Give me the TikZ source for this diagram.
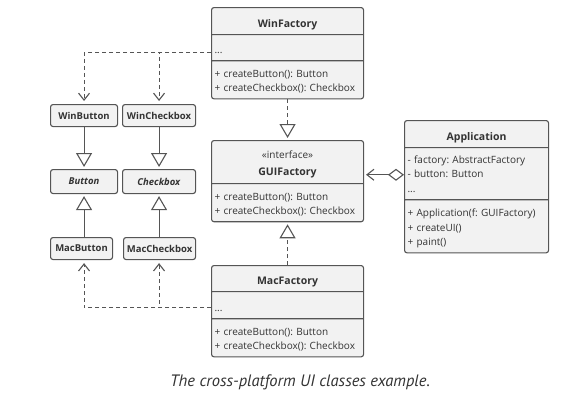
\documentclass[tikz,border=0pt]{standalone}
\usepackage{fontspec}
\setmainfont{Open Sans}
\newfontfamily\captionfont{PT Sans}
\usetikzlibrary{shapes}
\usetikzlibrary{arrows.meta}

\definecolor{boxfill}{HTML}{F2F2F2}
\definecolor{boxline}{HTML}{555555}
\definecolor{textgray}{HTML}{333333}

\begin{document}
\begin{tikzpicture}[x=1pt,y=-1pt]
	\tikzstyle{every node}=[font=\fontsize{10}{14.5}\selectfont\frenchspacing, text=textgray]
	\tikzstyle{umlclass}=[rectangle split, rectangle split parts=3, draw=boxline, fill=boxfill, line width=1.1pt, rounded corners=2.5pt, text width=146pt, inner xsep=3pt, inner ysep=0pt, anchor=north west]
	\tikzstyle{widget}=[rectangle, draw=boxline, fill=boxfill, line width=1.1pt, rounded corners=2.5pt, minimum height=22pt, inner sep=0pt, font=\fontsize{9.5}{14.5}\selectfont\bfseries, anchor=north west]
	\tikzstyle{inherit}=[draw=boxline, line width=1.1pt, -{Triangle[open, length=14pt, width=16pt]}, shorten >=2pt]
	\tikzstyle{implement}=[inherit, dash pattern=on 4pt off 3pt]
	\tikzstyle{depend}=[draw=boxline, line width=1.1pt, dash pattern=on 4pt off 3pt, -{Straight Barb[length=7pt, width=11pt]}, shorten >=3pt]
	\tikzstyle{aggregate}=[draw=boxline, line width=1.1pt, {Diamond[open, length=16pt, width=12pt]}-{Straight Barb[length=7pt, width=11pt]}, shorten >=2pt]

	\useasboundingbox (0,0) rectangle (581,402);

	% factories
	\node[umlclass] (WinFactory) at (211,7)
		{\centering\rule[-7pt]{0pt}{26pt}\fontsize{10.5}{14.5}\selectfont\textbf{WinFactory}\par
		\nodepart{two}\rule[-7pt]{0pt}{25pt}...
		\nodepart{three}\rule{0pt}{16pt}+ createButton(): Button\\\rule[-6.5pt]{0pt}{6.5pt}+ createCheckbox(): Checkbox};
	\node[umlclass, rectangle split parts=2] (GUIFactory) at (211,140)
		{\centering\rule{0pt}{17pt}«interface»\\[2.5pt]\rule[-8pt]{0pt}{8pt}\fontsize{10.5}{14.5}\selectfont\textbf{GUIFactory}\par
		\nodepart{two}\rule{0pt}{16pt}+ createButton(): Button\\\rule[-6.5pt]{0pt}{6.5pt}+ createCheckbox(): Checkbox};
	\node[umlclass] (MacFactory) at (211,265)
		{\centering\rule[-7pt]{0pt}{25pt}\fontsize{10.5}{14.5}\selectfont\textbf{MacFactory}\par
		\nodepart{two}\rule[-7pt]{0pt}{26pt}...
		\nodepart{three}\rule{0pt}{16pt}+ createButton(): Button\\\rule[-6.5pt]{0pt}{6.5pt}+ createCheckbox(): Checkbox};
	\node[umlclass, text width=138pt] (Application) at (404,120)
		{\centering\rule[-7pt]{0pt}{26pt}\fontsize{10.5}{14.5}\selectfont\textbf{Application}\par
		\nodepart{two}\rule{0pt}{15pt}- factory: AbstractFactory\\- button: Button\\\rule[-7pt]{0pt}{7pt}...
		\nodepart{three}\rule{0pt}{16.5pt}+ Application(f: GUIFactory)\\+ createUI()\\\rule[-6.5pt]{0pt}{6.5pt}+ paint()};

	% products
	\node[widget, minimum width=67pt] (WinButton) at (50,104) {WinButton};
	\node[widget, minimum width=73pt] (WinCheckbox) at (122,104) {WinCheckbox};
	\node[widget, minimum width=67pt, minimum height=24pt] (Button) at (50,169) {\textit{Button}};
	\node[widget, minimum width=73pt, minimum height=24pt] (Checkbox) at (122,169) {\textit{Checkbox}};
	\node[widget, minimum width=62pt] (MacButton) at (50,237) {MacButton};
	\node[widget, minimum width=72pt] (MacCheckbox) at (123,237) {MacCheckbox};

	\node (caption) at (300,382) {\captionfont\fontsize{16.5}{18}\selectfont\itshape The cross-platform UI classes example.};

	% connectors
	\coordinate (winuse) at ([yshift=8pt]WinFactory.two split west);
	\coordinate (macuse) at ([yshift=11pt]MacFactory.two split west);
	\coordinate (appuse) at ([yshift=25pt]Application.two split west);

	\draw[depend] (winuse) -| (WinButton.north);
	\draw[depend] (winuse) -| (WinCheckbox.north);
	\draw[depend] (macuse) -| (Button.south |- MacButton.south);
	\draw[depend] (macuse) -| (Checkbox.south |- MacCheckbox.south);

	\draw[inherit] (WinButton) -- (Button);
	\draw[inherit] (WinCheckbox) -- (Checkbox);
	\draw[inherit] (Button.south |- MacButton.north) -- (Button.south);
	\draw[inherit] (Checkbox.south |- MacCheckbox.north) -- (Checkbox.south);

	\draw[implement] (WinFactory) -- (GUIFactory);
	\draw[implement] (MacFactory) -- (GUIFactory);

	\draw[aggregate] (appuse) -- (appuse -| GUIFactory.east);
\end{tikzpicture}
\end{document}
